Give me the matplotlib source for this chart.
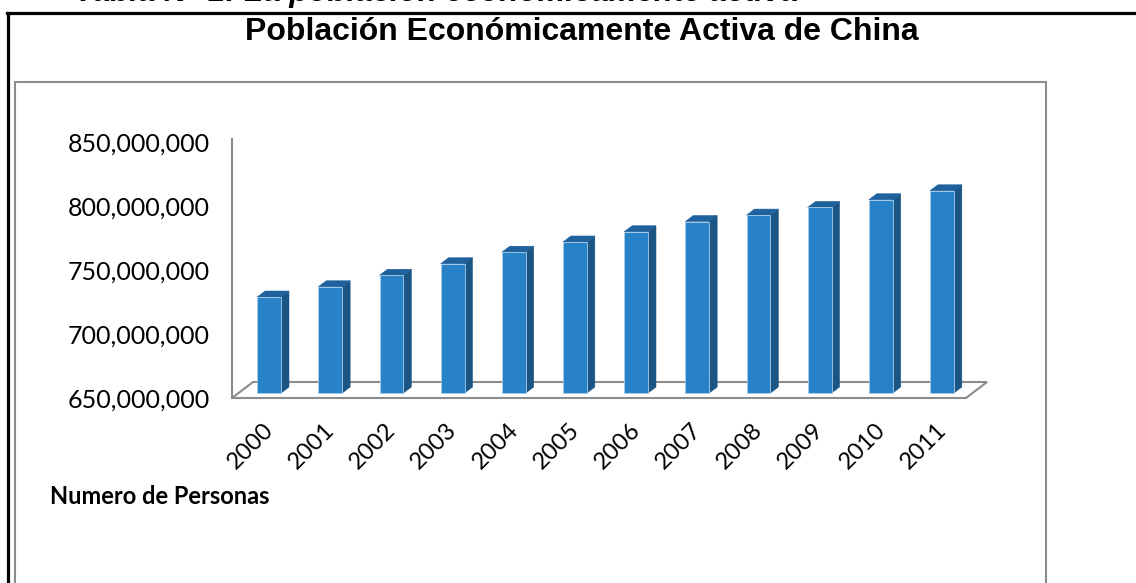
import matplotlib
matplotlib.use("Agg")
import matplotlib.pyplot as plt
from matplotlib.patches import Polygon, Rectangle
from matplotlib.lines import Line2D
import numpy as np

# data
years = ['2000', '2001', '2002', '2003', '2004', '2005',
         '2006', '2007', '2008', '2009', '2010', '2011']
personas = [725e6, 733e6, 742e6, 751e6, 760e6, 768e6,
            776e6, 784e6, 789e6, 795e6, 801e6, 808e6]
y_ticks = [650e6, 700e6, 750e6, 800e6, 850e6]

W, H = 1136, 583
def fx(px):
    return px / W
def fy(py):
    return 1 - py / H

fig = plt.figure(figsize=(W / 100, H / 100), dpi=100)

# outer frame (black) and chart area (gray)
fig.add_artist(Line2D([fx(7), 1], [fy(13), fy(13)], color='black', lw=2.3))
fig.add_artist(Line2D([fx(8), fx(8)], [fy(13), 0], color='black', lw=2.3))
fig.add_artist(Rectangle((fx(15), -0.1), fx(1046) - fx(15), fy(82) + 0.1,
                         fill=False, ec='#8c8c8c', lw=1.5, transform=fig.transFigure))

# caption above the frame, mostly cut off by the page edge
fig.text(fx(75), fy(0.5), 'Tabla N° 1: La población económicamente activa',
         family='Liberation Sans', fontweight='bold', style='italic',
         fontsize=22.5, va='baseline', ha='left')

fig.text(fx(582), fy(32), 'Población Económicamente Activa de China',
         family='Liberation Sans', fontweight='bold', fontsize=23,
         ha='center', va='center')

ax = fig.add_axes([fx(232), fy(398), fx(966) - fx(232), (398 - 142) / H])
ax.set_xlim(-0.5, 11.5)
ax.set_ylim(650e6, 850e6)
for s in ax.spines.values():
    s.set_visible(False)
ax.patch.set_alpha(0)

gray = '#8c8c8c'
base = y_ticks[0]
x = np.arange(len(years))

# floor depth (data units) and bar depth
dx, dy = 0.344, 12.5e6
f = 0.31
ox, oy = f * dx, f * dy
bw = 0.39
bdx, bdy = 0.13, 4.7e6

floor = Polygon([(-0.5, base), (11.5, base), (11.5 + dx, base + dy), (-0.5 + dx, base + dy)],
                closed=True, fc='white', ec=gray, lw=1.5, clip_on=False, zorder=1)
ax.add_patch(floor)
ax.plot([-0.5, -0.5], [base, 852e6], color=gray, lw=1.5, clip_on=False, zorder=1)

vals = np.array(personas)
ax.bar(x + ox, vals - base, bottom=base + oy, width=bw, color='#2882c8',
       edgecolor='#a9cce9', lw=0.6, zorder=3, clip_on=False)
for xi, v in zip(x, vals):
    xl = xi + ox - bw / 2
    xr = xi + ox + bw / 2
    top = v + oy
    b0 = base + oy
    side = Polygon([(xr, b0), (xr, top), (xr + bdx, top + bdy), (xr + bdx, b0 + bdy)],
                   closed=True, fc='#1b5583', ec='#1b5583', lw=0.4, clip_on=False, zorder=2)
    cap = Polygon([(xl, top), (xr, top), (xr + bdx, top + bdy), (xl + bdx, top + bdy)],
                  closed=True, fc='#1e619d', ec='#1e619d', lw=0.4, clip_on=False, zorder=2)
    ax.add_patch(side)
    ax.add_patch(cap)

ax.set_yticks(y_ticks)
ax.set_yticklabels([f'{int(t):,}' for t in y_ticks], family='Lato', fontsize=18)
ax.set_xticks(x)
ax.set_xticklabels(years, family='Lato', fontsize=17, rotation=45,
                   ha='right', rotation_mode='anchor')
ax.tick_params(axis='y', length=0, pad=16)
ax.tick_params(axis='x', length=0, pad=15)

fig.text(fx(50), fy(496), 'Numero de Personas', family='Lato', fontweight='bold',
         fontsize=17, ha='left', va='center')

fig.savefig('out.png', dpi=100)
